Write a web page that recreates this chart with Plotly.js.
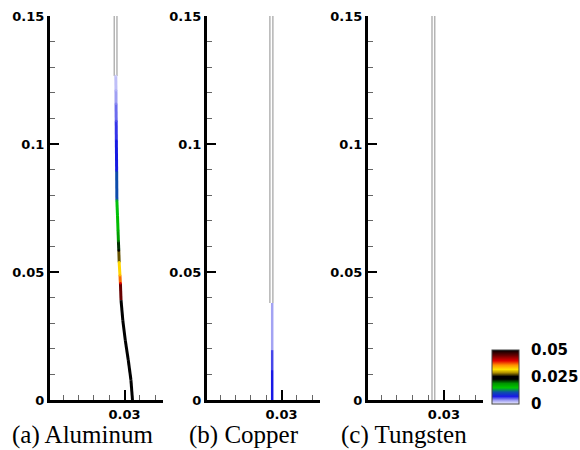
<!DOCTYPE html>
<html>
<head>
<meta charset="utf-8">
<script src="https://cdn.plot.ly/plotly-3.0.1.min.js"></script>
<style>html,body{margin:0;padding:0;background:#fff;}#chart{width:580px;height:450px;}</style>
</head>
<body>
<div id="chart"></div>
<script>
// ---- data ----
const panelNames = ['(a) Aluminum', '(b) Copper', '(c) Tungsten'];
const xRange = [0.0203, 0.035];
const yRange = [0, 0.15];
const xTickVals = [0.03];
const xTickText = ['0.03'];
const yTickVals = [0, 0.05, 0.1, 0.15];
const yTickText = ['0', '0.05', '0.1', '0.15'];

// undeformed rod outline (gray double line), per panel
const rodLeftX = [0.02866, 0.02848, 0.02848];
const rodRightX = [0.02901, 0.02887, 0.02883];
const rodTopY = [0.15, 0.15, 0.15];
const rodEndY = [0.1266, 0.0379, 0];

// deformed rod, aluminum
const alX = [0.02886, 0.02888, 0.02889, 0.02891, 0.02893, 0.02897, 0.02900, 0.02908, 0.02915, 0.02920, 0.02925, 0.02930, 0.02940, 0.02946, 0.02954, 0.02977, 0.03009, 0.03048, 0.03083, 0.03103];
const alY = [0.1266, 0.1210, 0.1157, 0.1090, 0.1013, 0.0896, 0.0779, 0.0720, 0.0662, 0.0620, 0.0584, 0.0538, 0.0487, 0.0456, 0.0390, 0.0312, 0.0234, 0.0156, 0.0078, 0.0];
const alV = [0.0015, 0.0025, 0.0040, 0.0055, 0.0070, 0.0075, 0.0140, 0.0155, 0.0165, 0.0200, 0.0235, 0.0315, 0.0340, 0.0400, 0.0500, 0.0500, 0.0500, 0.0500, 0.0500, 0.0500];

// deformed rod, copper
const cuX = [0.02878, 0.02878, 0.02878, 0.02878];
const cuY = [0.0379, 0.0195, 0.0117, 0.0];
const cuV = [0.0018, 0.0045, 0.007, 0.007];

// colour bar
const cbMin = 0, cbMax = 0.05;
const cbTickVals = [0, 0.025, 0.05];
const cbTickText = ['0', '0.025', '0.05'];
const cbScale = [
  [0.00, '#f0f0ff'], [0.07, '#9a9af2'], [0.14, '#1818e6'], [0.22, '#0c50a8'],
  [0.30, '#00c800'], [0.38, '#009600'], [0.46, '#000000'], [0.51, '#000000'],
  [0.58, '#b09000'], [0.64, '#ffe400'], [0.72, '#ff9000'], [0.80, '#e00000'],
  [0.90, '#680000'], [1.00, '#000000']
];

// ---- helpers ----
function hex2rgb(h){return [parseInt(h.substr(1,2),16),parseInt(h.substr(3,2),16),parseInt(h.substr(5,2),16)];}
function colorAt(v){
  const t = Math.max(0, Math.min(1, (v - cbMin) / (cbMax - cbMin)));
  for (let i = 1; i < cbScale.length; i++) {
    if (t <= cbScale[i][0]) {
      const a = cbScale[i-1], b = cbScale[i];
      const f = (t - a[0]) / (b[0] - a[0] || 1);
      const ca = hex2rgb(a[1]), cb = hex2rgb(b[1]);
      return 'rgb(' + ca.map((c, k) => Math.round(c + (cb[k] - c) * f)).join(',') + ')';
    }
  }
  return cbScale[cbScale.length-1][1];
}

const W = 580, H = 450;
const xDomPx = [[50, 163], [207, 320], [368, 483]];
const yDomPx = [[16, 400], [16, 400], [16, 400]];

const traces = [];
const layout = {
  width: W, height: H,
  margin: {l: 0, r: 0, t: 0, b: 0},
  paper_bgcolor: '#fff', plot_bgcolor: '#fff',
  showlegend: false,
  annotations: []
};
const tickFont = {family: 'DejaVu Sans', size: 13, color: '#000', weight: 'bold'};

for (let p = 0; p < 3; p++) {
  const sx = p === 0 ? '' : String(p + 1);
  const xa = 'x' + sx, ya = 'y' + sx;
  layout['xaxis' + sx] = {
    domain: [xDomPx[p][0] / W, xDomPx[p][1] / W],
    range: xRange, anchor: ya,
    showline: true, linecolor: '#000', linewidth: 3,
    showgrid: false, zeroline: false,
    tickmode: 'array', tickvals: xTickVals, ticktext: xTickText,
    ticks: 'inside', ticklen: 10, tickwidth: 2, tickcolor: '#000',
    tickfont: tickFont,
    minor: {ticks: 'inside', ticklen: 5, tickwidth: 1, tickcolor: '#666', tick0: 0, dtick: 0.002, showgrid: false},
    fixedrange: true
  };
  layout['yaxis' + sx] = {
    domain: [1 - yDomPx[p][1] / H, 1 - yDomPx[p][0] / H],
    range: yRange, anchor: xa,
    showline: true, linecolor: '#000', linewidth: 3,
    showgrid: false, zeroline: false,
    tickmode: 'array', tickvals: yTickVals, ticktext: yTickText,
    ticks: 'inside', ticklen: 9, tickwidth: 2, tickcolor: '#000',
    tickfont: tickFont,
    minor: {ticks: 'inside', ticklen: 5, tickwidth: 1, tickcolor: '#666', tick0: 0, dtick: 0.01, showgrid: false},
    fixedrange: true
  };
  // gray double lines
  [rodLeftX[p], rodRightX[p]].forEach(xv => {
    traces.push({type: 'scatter', mode: 'lines', x: [xv, xv], y: [rodTopY[p], rodEndY[p]],
      xaxis: xa, yaxis: ya, line: {color: '#b4b4b4', width: 1.5}, hoverinfo: 'skip'});
  });
  layout.annotations.push({
    text: panelNames[p], xref: 'paper', yref: 'paper',
    x: [83, 244, 404][p] / W, y: (H - 435) / H, xanchor: 'center', yanchor: 'middle',
    showarrow: false, font: {family: 'Liberation Serif', size: 25, color: '#000'}
  });
}

function addRod(X, Y, V, xa, ya, w) {
  for (let i = 0; i < X.length - 1; i++) {
    traces.push({type: 'scatter', mode: 'lines', x: [X[i], X[i+1]], y: [Y[i], Y[i+1]],
      xaxis: xa, yaxis: ya, line: {color: colorAt((V[i] + V[i+1]) / 2), width: w}, hoverinfo: 'skip'});
  }
}
addRod(alX, alY, alV, 'x', 'y', 3);
addRod(cuX, cuY, cuV, 'x2', 'y2', 2.5);

// marker trace carrying the colour scale
traces.push({
  type: 'scatter', mode: 'markers', x: alX.slice(0, 14), y: alY.slice(0, 14), xaxis: 'x', yaxis: 'y',
  hoverinfo: 'skip',
  marker: {
    size: 2.5, color: alV.slice(0, 14), colorscale: cbScale, cmin: cbMin, cmax: cbMax, showscale: true,
    line: {width: 0},
    colorbar: {
      x: 492 / W, xanchor: 'left', xpad: 0,
      y: (H - 377) / H, yanchor: 'middle', ypad: 0,
      len: 54, lenmode: 'pixels', thickness: 27, thicknessmode: 'pixels',
      outlinewidth: 1, outlinecolor: '#444',
      tickmode: 'array', tickvals: cbTickVals, ticktext: cbTickText,
      ticks: 'outside', ticklen: 9, tickcolor: 'rgba(0,0,0,0)',
      tickfont: {family: 'DejaVu Sans', size: 15, color: '#000', weight: 'bold'}
    }
  }
});

Plotly.newPlot('chart', traces, layout, {displayModeBar: false, staticPlot: true});
</script>
</body>
</html>
